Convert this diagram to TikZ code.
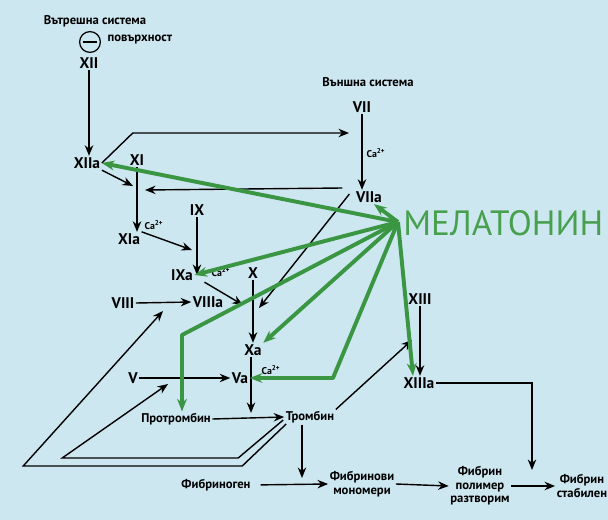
\documentclass[tikz,border=0pt]{standalone}
\usepackage{fontspec}
\setmainfont{PT Sans}
\usetikzlibrary{arrows.meta,calc}
\definecolor{fondo}{RGB}{205,231,240}
\definecolor{verde}{RGB}{58,150,66}
\definecolor{verdetesto}{RGB}{72,160,78}
\tikzset{
  fattore/.style={font=\bfseries\fontsize{11}{13}\selectfont,inner sep=1pt},
  scritta/.style={font=\bfseries\fontsize{9}{9.6}\selectfont,inner sep=1pt,align=center},
  ione/.style={font=\bfseries\fontsize{7}{8}\selectfont,inner sep=0pt},
  freccia/.style={line width=1pt,-{Stealth[length=7.5pt,width=6pt]}},
  melat/.style={verde,line width=2.8pt,line join=round,-{Stealth[length=9pt,width=7pt]}}
}
\begin{document}
\begin{tikzpicture}[x=0.025cm,y=-0.025cm]
  \fill[fondo] (0,0) rectangle (608,520);
  \useasboundingbox (0,0) rectangle (608,520);
  %via interna
  \node[scritta] (intsys) at (95,21) {Вътрешна система};
  \node[draw,circle,line width=0.9pt,minimum size=0.52cm,inner sep=0pt] (surf) at (90,42) {};
  \draw[line width=1pt] ($(surf.west)+(4,0)$) -- ($(surf.east)+(-4,0)$);
  \node[scritta,anchor=west] (surftxt) at (106,40) {повърхност};
  \node[fattore] (XII) at (89,63) {XII};
  \node[fattore] (XIIa) at (87,163) {XIIa};
  \node[fattore] (XI) at (137,160) {XI};
  \node[fattore] (XIa) at (129,239) {XIa};
  \node[fattore] (IX) at (197,210) {IX};
  \node[fattore] (IXa) at (182,275) {IXa};
  \node[fattore] (X) at (253,273) {X};
  \node[fattore] (Xa) at (253,350) {Xa};
  \node[fattore] (VIII) at (123,303) {VIII};
  \node[fattore] (VIIIa) at (208,302) {VIIIa};
  \node[fattore] (V) at (133,378) {V};
  \node[fattore] (Va) at (240,378) {Va};
  %via esterna
  \node[scritta] (extsys) at (368,82) {Външна система};
  \node[fattore] (VII) at (362,107) {VII};
  \node[fattore] (VIIa) at (369,197) {VIIa};
  \node[fattore] (XIII) at (420,299) {XIII};
  \node[fattore] (XIIIa) at (419,383) {XIIIa};
  %calcio
  \node[ione] (ca1) at (376,153) {Ca\textsuperscript{2+}};
  \node[ione] (ca2) at (154,225) {Ca\textsuperscript{2+}};
  \node[ione] (ca3) at (221,272) {Ca\textsuperscript{2+}};
  \node[ione] (ca4) at (271,370) {Ca\textsuperscript{2+}};
  %trombina e fibrina
  \node[scritta] (protrombin) at (176,419) {Протромбин};
  \node[scritta] (trombin) at (310,417) {Тромбин};
  \node[scritta] (fibrinogen) at (216,485) {Фибриноген};
  \node[scritta] (monomeri) at (362,484) {Фибринови\\мономери};
  \node[scritta] (polimero) at (480,486) {Фибрин\\полимер\\разтворим};
  \node[scritta] (stabile) at (582,486) {Фибрин\\стабилен};
  %melatonina
  \node[anchor=west,text=verdetesto,font=\fontsize{25}{25}\selectfont,inner sep=0pt] (melatonin) at (403,223) {МЕЛАТОНИН};
  \coordinate (hub) at (398,222);
  %punti liberi
  \coordinate (jVII) at (349,133);
  \coordinate (jXI) at (133,186);
  \coordinate (jXIb) at (145,190);
  \coordinate (jIX) at (192,250);
  \coordinate (jXa) at (243,305);
  \coordinate (jXb) at (259,308);
  \coordinate (jVIII) at (163,311);
  \coordinate (jV) at (168,384);
  \coordinate (jXIII) at (412,340);
  \coordinate (jPT) at (251,413);
  \coordinate (jFg) at (302,478);
  \coordinate (jSt) at (532,470);
  \coordinate (gPT) at (182,335);
  \coordinate (gVa) at (333,378);
  %frecce nere
  \draw[freccia] (XII.south) -- (XII.south |- XIIa.north);
  \draw[freccia] (XIIa.east) -- ++(31,-30) -- (jVII);
  \draw[freccia] (XIIa.south east) -- (jXI);
  \draw[freccia] (XI.south) -- (XI.south |- XIa.north);
  \draw[freccia] (VII.south) -- (VII.south |- VIIa.north);
  \draw[freccia] (VIIa.west) ++(-12,-9) -- (jXIb);
  \draw[freccia] (VIIa.west) ++(-5,-3) -- (jXb);
  \draw[freccia] (XIa.north east) -- (jIX);
  \draw[freccia] (IX.south) -- (IX.south |- IXa.east);
  \draw[freccia] (IXa.south east) ++(10,0) -- (jXa);
  \draw[freccia] (X.south) -- (X.south |- Xa.north);
  \draw[freccia] (VIII.east) -- (VIIIa.west);
  \draw[freccia] (V.east) -- (Va.west);
  \draw[freccia] (jPT |- Xa.south) -- (jPT);
  \draw[freccia] (protrombin.east) -- (trombin.west);
  \draw[freccia] (trombin.north east) -- (jXIII);
  \draw[freccia] (XIII.south) -- (XIII.south |- XIIIa.north);
  \draw[freccia] (XIIIa.east) -| (jSt);
  \draw[freccia] (jFg |- trombin.south) -- (jFg);
  \draw[freccia,shorten <=6pt] (fibrinogen.east) -- (monomeri.west);
  \draw[freccia] (monomeri.east) -- (polimero.west);
  \draw[freccia] (polimero.east) -- (stabile.west);
  %ritorno trombina
  \draw[freccia] (trombin.west) ++(-1,3) -- ++(-45,38) -- ++(-176,0) -- (jV);
  \draw[freccia] (trombin.west) ++(2,7) -- ++(-44,42) -- ++(-219,0) -- (jVIII);
  %frecce verdi
  \draw[melat] (hub) -- (XIIa.east);
  \draw[melat] (hub) -- ($(VIIa.south)+(5,0)$);
  \draw[melat] (hub) -- (IXa.east);
  \draw[melat] (hub) -- (gPT) -- (gPT |- protrombin.north);
  \draw[melat] (hub) -- (Xa.north east);
  \draw[melat] (hub) -- (gVa) -- (Va.east);
  \draw[melat] (hub) -- ($(XIIIa.north)+(-6,0)$);
\end{tikzpicture}
\end{document}
